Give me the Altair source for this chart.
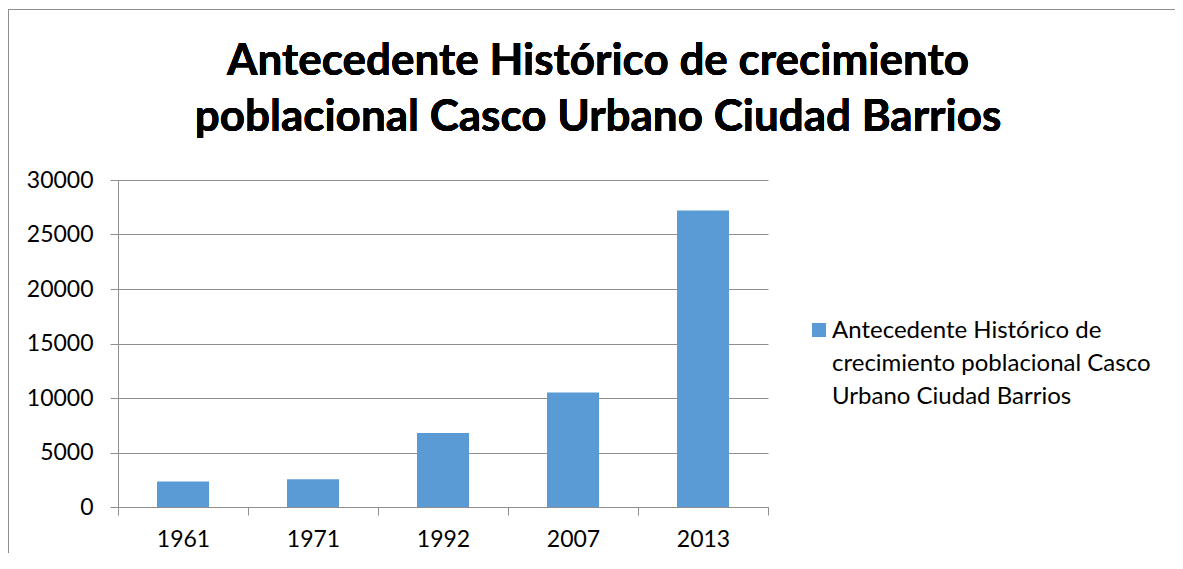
import json
import altair as alt
import pandas as pd

YEARS = ["1961", "1971", "1992", "2007", "2013"]
POPULATION = [2350, 2550, 6800, 10500, 27200]
TITLE_LINES = ["Antecedente Histórico de crecimiento",
               "poblacional Casco Urbano Ciudad Barrios"]
LEGEND_LINES = ["Antecedente Histórico de",
                "crecimiento poblacional Casco",
                "Urbano Ciudad Barrios"]
Y_TICKS = [0, 5000, 10000, 15000, 20000, 25000, 30000]

SERIES = " ".join(LEGEND_LINES)
df = pd.DataFrame({"year": YEARS, "value": POPULATION, "serie": [SERIES] * len(YEARS)})

FONT = "Lato"
GRID = "#8e8e8e"
BAR = "#5B9BD5"

bars = alt.Chart(df).mark_bar(color=BAR, width=alt.RelativeBandSize(0.4)).encode(
    x=alt.X("year:N", sort=YEARS,
            scale=alt.Scale(paddingInner=0, paddingOuter=0),
            axis=alt.Axis(title=None, labelAngle=0, tickBand="extent",
                          tickSize=8, tickColor=GRID, domainColor=GRID,
                          labelFont=FONT, labelFontSize=23, labelColor="#000000",
                          labelPadding=5, grid=False)),
    y=alt.Y("value:Q", scale=alt.Scale(domain=[0, 30000], nice=False),
            axis=alt.Axis(title=None, values=Y_TICKS, format="d", tickSize=8,
                          tickColor=GRID, domainColor=GRID, gridColor=GRID,
                          labelFont=FONT, labelFontSize=23, labelColor="#000000",
                          labelPadding=17, labelOffset=-8)),
    color=alt.Color("serie:N", scale=alt.Scale(range=[BAR]),
                    legend=alt.Legend(
                        title=None, orient="none", legendX=689, legendY=138,
                        symbolType="square", symbolSize=196, symbolStrokeWidth=0,
                        symbolOpacity=1, labelFont=FONT, labelFontSize=24,
                        labelColor="#000000", labelLimit=500, labelOffset=1,
                        labelBaseline="alphabetic",
                        labelExpr=json.dumps(LEGEND_LINES, ensure_ascii=False))),
)

title = alt.Chart(df).mark_text(
    font=FONT, fontSize=44, fontWeight="bold", color="#000000",
    align="center", baseline="alphabetic", lineHeight=56,
).encode(text=alt.value(TITLE_LINES), x=alt.value(480), y=alt.value(-105))

frame = alt.Chart(df).mark_rect(fill=None, stroke="#8e8e8e", strokeWidth=1).encode(
    x=alt.value(-109.5), x2=alt.value(1300), y=alt.value(-170.5), y2=alt.value(900)
)

chart = alt.layer(frame, bars, title).properties(
    width=650, height=327,
    autosize=alt.AutoSizeParams(type="none"),
    padding={"left": 110, "top": 172, "right": 407, "bottom": 46},
).configure(
    view={"stroke": None},
    style={"guide-label": {"lineHeight": 33, "dy": 8}},
)

chart.save("out.html", embed_options={"renderer": "svg", "actions": False})
